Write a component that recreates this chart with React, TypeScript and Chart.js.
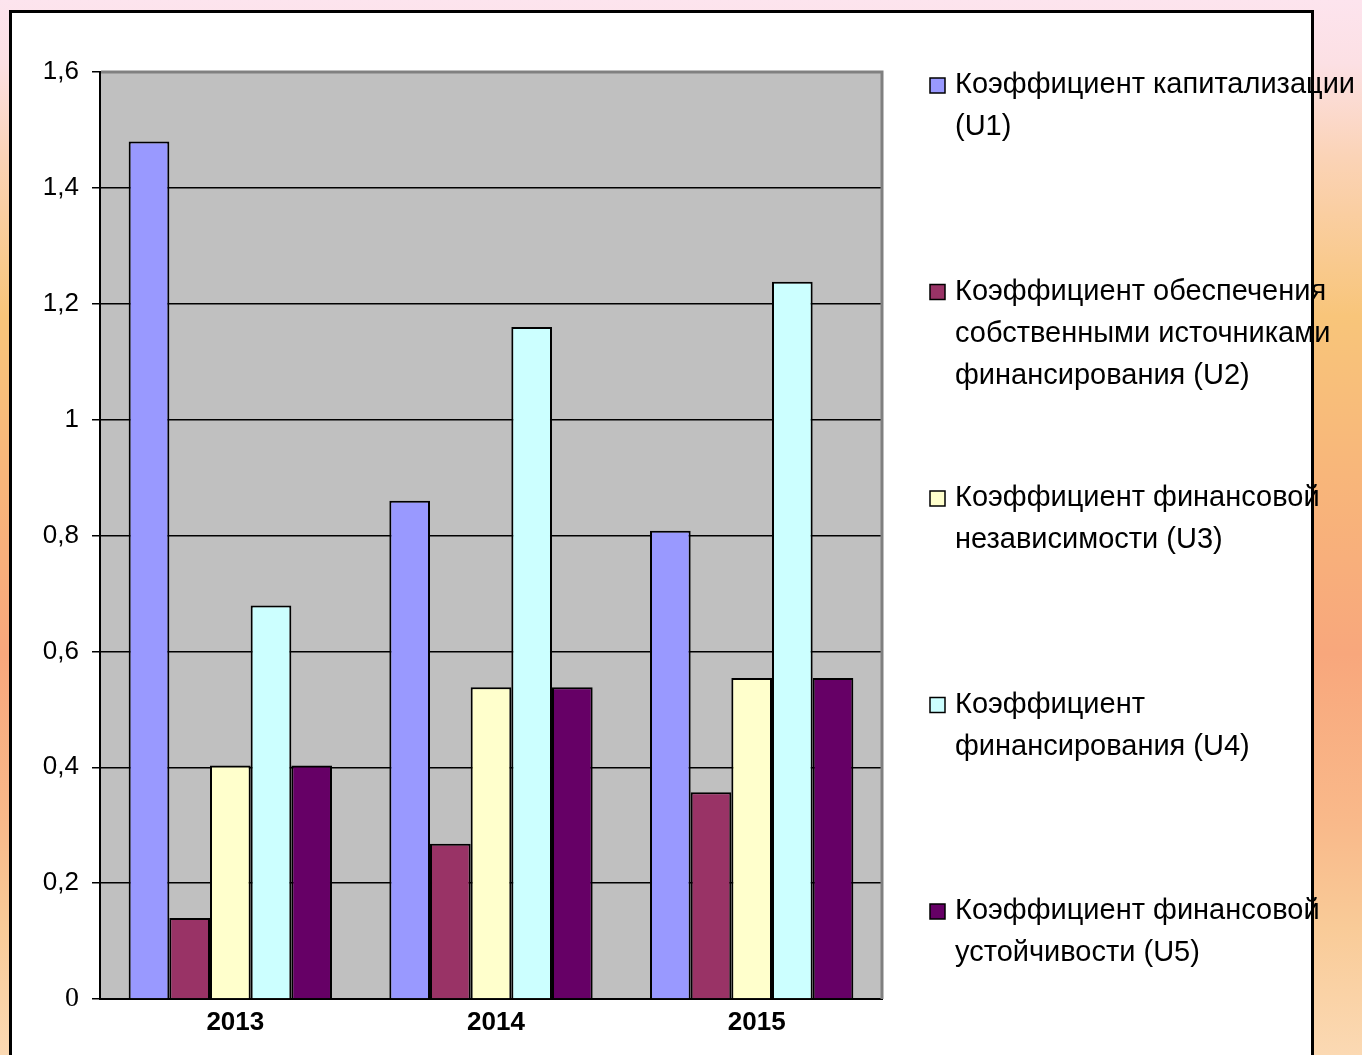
import React, { useEffect, useRef } from "react";
import { Chart, registerables } from "chart.js";

Chart.register(...registerables);

const categories = ["2013", "2014", "2015"];
const seriesU1 = [1.48, 0.86, 0.808];
const seriesU2 = [0.14, 0.268, 0.357];
const seriesU3 = [0.403, 0.538, 0.554];
const seriesU4 = [0.679, 1.16, 1.238];
const seriesU5 = [0.403, 0.538, 0.554];
const seriesColors = ["#9999FF", "#993366", "#FFFFCC", "#CCFFFF", "#660066"];
const seriesLabelLines = [
  ["Коэффициент капитализации", "(U1)"],
  ["Коэффициент обеспечения", "собственными источниками", "финансирования (U2)"],
  ["Коэффициент финансовой", "независимости (U3)"],
  ["Коэффициент", "финансирования (U4)"],
  ["Коэффициент финансовой", "устойчивости (U5)"],
];
const yMin = 0;
const yMax = 1.6;
const yStep = 0.2;

const W = 1362;
const H = 1055;

const pagePlugin = {
  id: "pagePlugin",
  beforeDraw(chart: any) {
    const { ctx, chartArea } = chart;
    ctx.save();
    const g = ctx.createLinearGradient(0, 0, 0, H);
    g.addColorStop(0, "#FDE4EE");
    g.addColorStop(0.06, "#FCE0E4");
    g.addColorStop(0.15, "#FBD3B6");
    g.addColorStop(0.3, "#F8C57A");
    g.addColorStop(0.45, "#F8B67A");
    g.addColorStop(0.62, "#F8A77C");
    g.addColorStop(0.78, "#F9B98A");
    g.addColorStop(0.88, "#F9CB98");
    g.addColorStop(1, "#FBD9B3");
    ctx.fillStyle = g;
    ctx.fillRect(0, 0, W, H);
    ctx.fillStyle = "#FFFFFF";
    ctx.fillRect(10, 11, 1302, H);
    ctx.fillStyle = "#C0C0C0";
    ctx.fillRect(chartArea.left, chartArea.top, chartArea.right - chartArea.left, chartArea.bottom - chartArea.top);
    ctx.restore();
  },
  afterDraw(chart: any) {
    const { ctx, chartArea } = chart;
    ctx.save();
    // plot area top/right border
    ctx.strokeStyle = "#808080";
    ctx.lineWidth = 3;
    ctx.beginPath();
    ctx.moveTo(chartArea.left + 1, chartArea.top);
    ctx.lineTo(chartArea.right, chartArea.top);
    ctx.lineTo(chartArea.right, chartArea.bottom);
    ctx.stroke();
    // legend
    const lx = chartArea.right + 48;
    const ly0 = 85;
    const gap = 206.5;
    chart.data.datasets.forEach((ds: any, i: number) => {
      const y = ly0 + i * gap;
      ctx.fillStyle = ds.backgroundColor;
      ctx.fillRect(lx, y - 7, 15, 15);
      ctx.strokeStyle = "#000";
      ctx.lineWidth = 1.5;
      ctx.strokeRect(lx, y - 7, 15, 15);
      ctx.fillStyle = "#000";
      ctx.font = "29px 'Liberation Sans', Arial, sans-serif";
      ctx.textBaseline = "middle";
      ctx.textAlign = "left";
      (ds.legendLines as string[]).forEach((line: string, j: number) => {
        ctx.fillText(line, lx + 25, y + j * 42);
      });
    });
    // white box border
    ctx.strokeStyle = "#000";
    ctx.lineWidth = 3;
    ctx.beginPath();
    ctx.moveTo(10.5, H + 10);
    ctx.lineTo(10.5, 11.5);
    ctx.lineTo(1312.5, 11.5);
    ctx.lineTo(1312.5, H + 10);
    ctx.stroke();
    ctx.restore();
  },
};

export default function App() {
  const ref = useRef<HTMLCanvasElement | null>(null);
  useEffect(() => {
    if (!ref.current) return;
    const all = [seriesU1, seriesU2, seriesU3, seriesU4, seriesU5];
    const chart = new Chart(ref.current, {
      type: "bar",
      data: {
        labels: categories,
        datasets: all.map((d, i) => ({
          label: seriesLabelLines[i].join(" "),
          legendLines: seriesLabelLines[i],
          data: d,
          backgroundColor: seriesColors[i],
          borderColor: "#000000",
          borderWidth: 2,
          categoryPercentage: 0.78,
          barPercentage: 1,
        })) as any,
      },
      options: {
        responsive: false,
        animation: false,
        layout: { padding: { top: 72, right: 480, left: 0, bottom: 0 } },
        plugins: { legend: { display: false }, tooltip: { enabled: false } },
        scales: {
          x: {
            grid: { display: false, drawTicks: false },
            border: { display: true, color: "#000", width: 2 },
            ticks: {
              color: "#000",
              padding: 8,
              labelOffset: 5,
              font: { family: "'Liberation Sans', Arial, sans-serif", size: 26, weight: "bold" },
            },
            afterFit: (s: any) => {
              s.height = 56;
            },
          },
          y: {
            min: yMin,
            max: yMax,
            ticks: {
              stepSize: yStep,
              color: "#000",
              padding: 13,
              font: (c: any) =>
                c.tick && Math.abs(c.tick.value) < 1e-9
                  ? { family: "'Liberation Serif', 'Times New Roman', serif", size: 28 }
                  : { family: "'Liberation Sans', Arial, sans-serif", size: 26 },
              callback: (v: any) => String(+Number(v).toFixed(1)).replace(".", ","),
            },
            grid: {
              color: "#000",
              lineWidth: 1.5,
              tickLength: 8,
            },
            border: { display: true, color: "#000", width: 2 },
            afterFit: (s: any) => {
              s.width = 100;
            },
          },
        },
      } as any,
      plugins: [pagePlugin],
    });
    return () => chart.destroy();
  }, []);
  return (
    <div style={{ position: "fixed", left: 0, top: 0, width: W, height: H }}>
      <canvas ref={ref} width={W} height={H} style={{ display: "block" }} />
    </div>
  );
}
